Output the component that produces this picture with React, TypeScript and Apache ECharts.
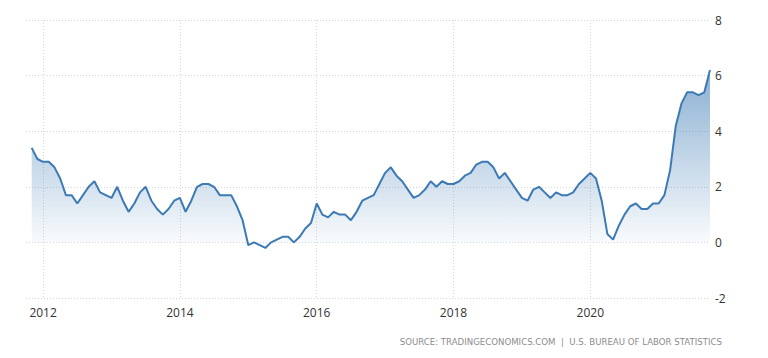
import React, { useEffect, useRef } from "react";
import * as echarts from "echarts";

// Monthly inflation rate (%), Nov 2011 – Oct 2021
const startYear = 2011;
const startMonth = 10; // October 2011 (left edge of the axis, no value)
const values2011 = [null, 3.4, 3.0];
const values2012 = [2.9, 2.9, 2.7, 2.3, 1.7, 1.7, 1.4, 1.7, 2.0, 2.2, 1.8, 1.7];
const values2013 = [1.6, 2.0, 1.5, 1.1, 1.4, 1.8, 2.0, 1.5, 1.2, 1.0, 1.2, 1.5];
const values2014 = [1.6, 1.1, 1.5, 2.0, 2.1, 2.1, 2.0, 1.7, 1.7, 1.7, 1.3, 0.8];
const values2015 = [-0.1, 0.0, -0.1, -0.2, 0.0, 0.1, 0.2, 0.2, 0.0, 0.2, 0.5, 0.7];
const values2016 = [1.4, 1.0, 0.9, 1.1, 1.0, 1.0, 0.8, 1.1, 1.5, 1.6, 1.7, 2.1];
const values2017 = [2.5, 2.7, 2.4, 2.2, 1.9, 1.6, 1.7, 1.9, 2.2, 2.0, 2.2, 2.1];
const values2018 = [2.1, 2.2, 2.4, 2.5, 2.8, 2.9, 2.9, 2.7, 2.3, 2.5, 2.2, 1.9];
const values2019 = [1.6, 1.5, 1.9, 2.0, 1.8, 1.6, 1.8, 1.7, 1.7, 1.8, 2.1, 2.3];
const values2020 = [2.5, 2.3, 1.5, 0.3, 0.1, 0.6, 1.0, 1.3, 1.4, 1.2, 1.2, 1.4];
const values2021 = [1.4, 1.7, 2.6, 4.2, 5.0, 5.4, 5.4, 5.3, 5.4, 6.2];

const yTicks = [-2, 0, 2, 4, 6, 8];
const sourceText = "SOURCE: TRADINGECONOMICS.COM  |  U.S. BUREAU OF LABOR STATISTICS";

const values: (number | null)[] = [
  ...values2011,
  ...values2012,
  ...values2013,
  ...values2014,
  ...values2015,
  ...values2016,
  ...values2017,
  ...values2018,
  ...values2019,
  ...values2020,
  ...values2021,
];

const categories: string[] = values.map((_, i) => {
  const m0 = startMonth - 1 + i;
  const y = startYear + Math.floor(m0 / 12);
  const m = (m0 % 12) + 1;
  return `${y}-${String(m).padStart(2, "0")}`;
});

const isEvenYearStart = (index: number) => {
  const c = categories[index];
  if (!c) return false;
  const y = parseInt(c.slice(0, 4), 10);
  return c.endsWith("-01") && y % 2 === 0;
};

export default function App() {
  const ref = useRef<HTMLDivElement>(null);

  useEffect(() => {
    if (!ref.current) return;
    const chart = echarts.init(ref.current, undefined, { renderer: "svg" });
    const font = "'Open Sans', 'DejaVu Sans', sans-serif";
    chart.setOption({
      animation: false,
      backgroundColor: "#ffffff",
      grid: { left: 26, right: 58, top: 20, bottom: 60, containLabel: false },
      xAxis: {
        type: "category",
        data: categories,
        boundaryGap: false,
        axisLine: { show: false },
        axisTick: { show: false },
        axisLabel: {
          interval: (index: number) => isEvenYearStart(index),
          formatter: (v: string) => v.slice(0, 4),
          color: "#333333",
          fontSize: 12,
          fontFamily: font,
          margin: 8,
        },
        splitLine: {
          show: true,
          interval: (index: number) => isEvenYearStart(index),
          lineStyle: { color: "#d6d6d6", type: [1, 2], width: 1 },
        },
      },
      yAxis: {
        type: "value",
        position: "right",
        min: yTicks[0],
        max: yTicks[yTicks.length - 1],
        interval: 2,
        axisLine: { show: false },
        axisTick: { show: false },
        axisLabel: {
          color: "#333333",
          fontSize: 12,
          fontFamily: font,
          margin: 5,
        },
        splitLine: {
          show: true,
          lineStyle: { color: "#d6d6d6", type: [1, 2], width: 1 },
        },
      },
      series: [
        {
          type: "line",
          data: values,
          showSymbol: false,
          symbol: "none",
          connectNulls: false,
          lineStyle: { color: "#3c7ab4", width: 2 },
          itemStyle: { color: "#3c7ab4" },
          areaStyle: {
            origin: 0,
            color: new echarts.graphic.LinearGradient(0, 0, 0, 1, [
              { offset: 0, color: "rgba(60,122,180,0.85)" },
              { offset: 1, color: "rgba(60,122,180,0.02)" },
            ]),
          },
        },
      ],
      graphic: [
        {
          type: "text",
          right: 46,
          top: 337,
          style: {
            text: sourceText,
            fill: "#8c8c8c",
            fontSize: 8.6,
            fontFamily: "'DejaVu Sans', sans-serif",
          },
        },
      ],
    });
    return () => chart.dispose();
  }, []);

  return <div ref={ref} style={{ width: 768, height: 358, position: "absolute", left: 0, top: 0 }} />;
}
